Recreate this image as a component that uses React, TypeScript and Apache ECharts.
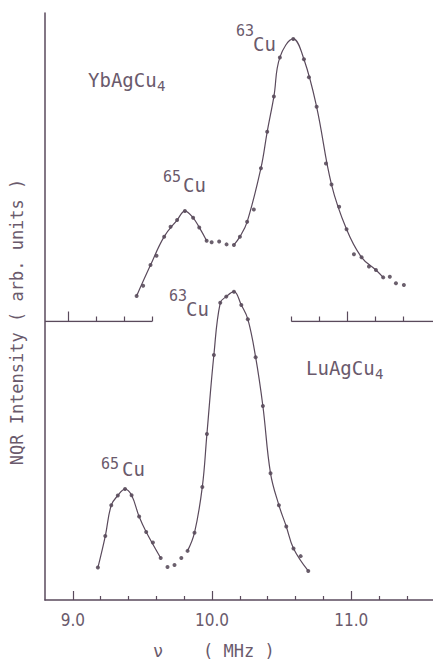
import React, { useEffect, useRef } from "react";
import * as echarts from "echarts";

// NQR spectra (arb. units) vs frequency (MHz)
// YbAgCu4 trace (upper panel)
const ybFreq = [9.488, 9.535, 9.588, 9.631, 9.686, 9.732, 9.779, 9.835, 9.894, 9.938, 9.991, 10.027, 10.081, 10.134, 10.187, 10.23, 10.282, 10.33, 10.381, 10.426, 10.474, 10.517, 10.613, 10.69, 10.726, 10.781, 10.848, 10.888, 10.943, 10.996, 11.049, 11.104, 11.157, 11.207, 11.259, 11.307, 11.351, 11.408];
const ybIntensity = [8.3, 11.6, 18.3, 21.3, 27.5, 30.7, 32.9, 35.8, 33.6, 30.5, 26.2, 25.7, 25.9, 25.0, 24.8, 27.5, 32.3, 36.3, 49.7, 61.5, 72.9, 85.6, 91.6, 85.0, 79.2, 69.6, 51.2, 44.4, 37.2, 29.9, 21.8, 20.8, 17.8, 16.7, 14.3, 14.5, 12.4, 11.8];
// hand-drawn guide curve: the measured points it is drawn through, piece by piece
const ybGuideKnots = [
  [0, 2, 4, 6, 7, 8, 9, 10],
  [14, 15, 16, 18, 19, 20, 21, 22, 23, 25, 27, 29, 31, 33, 34],
];

// LuAgCu4 trace (lower panel)
const luFreq = [9.18, 9.233, 9.276, 9.323, 9.375, 9.422, 9.476, 9.527, 9.575, 9.631, 9.68, 9.73, 9.779, 9.824, 9.874, 9.93, 9.963, 10.013, 10.059, 10.102, 10.157, 10.21, 10.257, 10.313, 10.365, 10.42, 10.48, 10.533, 10.585, 10.636, 10.691];
const luIntensity = [10.5, 20.7, 30.7, 33.8, 35.9, 33.9, 27.0, 22.0, 18.6, 13.6, 10.7, 11.3, 13.6, 15.9, 21.8, 36.6, 53.7, 79.3, 96.2, 98.2, 99.8, 95.5, 90.9, 78.6, 62.8, 41.0, 30.7, 23.8, 16.7, 14.2, 9.4];
const luGuideKnots = [
  [0, 1, 2, 3, 4, 5, 6, 7, 9],
  [13, 14, 15, 16, 17, 18, 19, 20, 21, 22, 23, 24, 25, 26, 27, 28, 30],
];

// frequency axis ticks
const majorTicks = [9, 10, 11];
const minorTicks = [9.2, 9.4, 9.6, 9.8, 10.2, 10.4, 10.6, 10.8, 11.2, 11.4];
// upper panel: broken baseline pieces and their ticks
const ybBaseline = [
  [8.83, 9.6],
  [10.6, 11.617],
];
const ybMajorTicks = [9, 11];
const ybMinorTicks = [9.2, 9.4, 9.6, 10.6, 10.8, 11.2, 11.4];

const INK = "#5a4a5c";
const DOT = "#463848";
const TEXT = "#6a5a6c";
const MONO = '"DejaVu Sans Mono", monospace';

const points = (xs: number[], ys: number[]) => xs.map((x, i) => [x, ys[i]]);
// guide-line data: each piece's knots, with a break between pieces
const guide = (xs: number[], ys: number[], pieces: number[][]) => {
  const out: any[] = [];
  pieces.forEach((piece, p) => {
    if (p > 0) out.push([xs[pieces[p - 1][pieces[p - 1].length - 1]], "-"]);
    piece.forEach((i) => out.push([xs[i], ys[i]]));
  });
  return out;
};

const txt = (x: number, y: number, text: string, size: number) => ({
  type: "text",
  x,
  y,
  silent: true,
  style: {
    text,
    fill: TEXT,
    fontSize: size,
    fontFamily: MONO,
    align: "left",
    verticalAlign: "middle",
  },
});

export default function App() {
  const ref = useRef<HTMLDivElement>(null);

  useEffect(() => {
    if (!ref.current) return;
    const chart = echarts.init(ref.current, null, { renderer: "svg" });

    const lowerX = { min: 8.8, max: 11.587 };
    const upperX = { min: 8.83, max: 11.617 };

    const tickAxis = (grid: number, range: any, values: number[], length: number) => ({
      gridIndex: grid,
      type: "value",
      ...range,
      position: "bottom",
      axisLine: { show: false },
      axisTick: { show: true, inside: true, length, customValues: values, lineStyle: { color: INK, width: 1.2 } },
      axisLabel: { show: false },
      splitLine: { show: false },
    });

    const curve = (xi: number, yi: number, data: any[]) => ({
      type: "line",
      xAxisIndex: xi,
      yAxisIndex: yi,
      data,
      smooth: 0.4,
      showSymbol: false,
      connectNulls: false,
      lineStyle: { color: INK, width: 1.2 },
      silent: true,
    });

    const dots = (xi: number, yi: number, data: any[]) => ({
      type: "scatter",
      xAxisIndex: xi,
      yAxisIndex: yi,
      data,
      symbol: "circle",
      symbolSize: 4,
      itemStyle: { color: DOT },
      silent: true,
    });

    const option: any = {
      animation: false,
      backgroundColor: "#ffffff",
      grid: [
        { left: 45, right: 0, top: 13, bottom: 61 },
        { left: 45, right: 0, top: 13, bottom: 339.5 },
      ],
      xAxis: [
        {
          gridIndex: 0,
          type: "value",
          ...lowerX,
          position: "bottom",
          axisLine: { show: true, lineStyle: { color: INK, width: 1.5 } },
          axisTick: { show: true, inside: true, length: 4, customValues: minorTicks, lineStyle: { color: INK, width: 1.2 } },
          axisLabel: {
            show: true,
            customValues: majorTicks,
            formatter: (v: number) => v.toFixed(1),
            color: TEXT,
            fontSize: 17,
            fontFamily: '"Liberation Sans Narrow", "DejaVu Sans Condensed", "Liberation Sans", sans-serif',
            margin: 11,
          },
          splitLine: { show: false },
        },
        tickAxis(0, lowerX, majorTicks, 9),
        tickAxis(1, upperX, ybMinorTicks, 5),
        tickAxis(1, upperX, ybMajorTicks, 10),
      ],
      yAxis: [
        {
          gridIndex: 0,
          type: "value",
          min: 0,
          max: 190,
          axisLine: { show: true, lineStyle: { color: INK, width: 1.5 } },
          axisTick: { show: false },
          axisLabel: { show: false },
          splitLine: { show: false },
        },
        {
          gridIndex: 1,
          type: "value",
          min: 0,
          max: 100,
          show: false,
          splitLine: { show: false },
        },
      ],
      series: [
        curve(0, 0, guide(luFreq, luIntensity, luGuideKnots)),
        dots(0, 0, points(luFreq, luIntensity)),
        curve(2, 1, guide(ybFreq, ybIntensity, ybGuideKnots)),
        dots(2, 1, points(ybFreq, ybIntensity)),
        ...ybBaseline.map(([a, b]) => ({
          type: "line",
          xAxisIndex: 2,
          yAxisIndex: 1,
          data: [
            [a, 0],
            [b, 0],
          ],
          showSymbol: false,
          lineStyle: { color: INK, width: 1.5 },
          silent: true,
        })),
      ],
      graphic: [
        // compound labels
        txt(88, 80, "YbAgCu", 19),
        txt(157, 86, "4", 14),
        txt(306, 368, "LuAgCu", 19),
        txt(375, 374, "4", 14),
        // isotope labels
        txt(163, 177, "65", 15),
        txt(183, 185, "Cu", 19),
        txt(236, 31, "63", 15),
        txt(253, 44, "Cu", 19),
        txt(169, 296, "63", 15),
        txt(186, 309, "Cu", 19),
        txt(101, 464, "65", 15),
        txt(122, 469, "Cu", 19),
        // axis titles
        txt(153, 651, "ν", 17),
        txt(203, 651, "( MHz )", 17),
        {
          type: "text",
          x: 16.5,
          y: 322,
          rotation: Math.PI / 2,
          silent: true,
          style: {
            text: "NQR Intensity ( arb. units )",
            fill: TEXT,
            fontSize: 17,
            fontFamily: MONO,
            align: "center",
            verticalAlign: "middle",
          },
        },
      ],
    };

    chart.setOption(option);
    return () => chart.dispose();
  }, []);

  return (
    <div
      ref={ref}
      style={{ position: "fixed", left: 0, top: 0, width: 433, height: 661, background: "#fff" }}
    />
  );
}
